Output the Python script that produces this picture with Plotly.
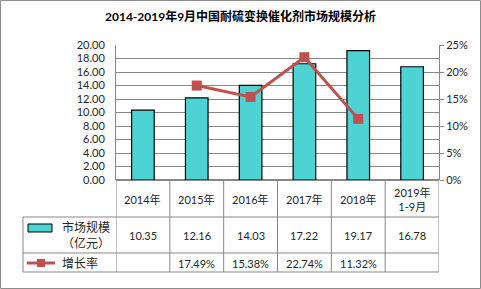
import plotly.graph_objects as go

# ---- data ----
categories = ["2014年", "2015年", "2016年", "2017年", "2018年", "2019年<br>1-9月"]
market_size = [10.35, 12.16, 14.03, 17.22, 19.17, 16.78]
growth_rate = [None, 0.1749, 0.1538, 0.2274, 0.1132, None]
series_names = ["市场规模<br>（亿元）", "增长率"]
title_text = "2014-2019年9月中国耐硫变换催化剂市场规模分析"

W, H = 481, 289
L, R, T, B = 116, 439, 45, 180  # plot area in pixels

FONT = "Lato, 'Noto Sans CJK SC', sans-serif"
TXT = "#262626"
GRID = "#878787"
BAR = "#4dd3d3"
LINE = "#c0504d"


def px(x):
    return (x - L) / (R - L)


def py(y):
    return (B - y) / (B - T)


idx = list(range(len(categories)))

fig = go.Figure()
fig.add_trace(go.Bar(
    x=idx, y=market_size, width=0.42,
    marker=dict(color=BAR, line=dict(color="#000000", width=1.2)),
    name=series_names[0], showlegend=False,
))
fig.add_trace(go.Scatter(
    x=idx, y=growth_rate, yaxis="y2", mode="lines+markers",
    line=dict(color=LINE, width=3),
    marker=dict(symbol="square", size=10, color=LINE),
    connectgaps=False, name=series_names[1], showlegend=False,
))

shapes = []
line_style = dict(color=GRID, width=1)
# table horizontal lines
for yy, x0 in [(217, 23), (253, 23), (272, 23)]:
    shapes.append(dict(type="line", xref="paper", yref="paper",
                       x0=px(x0), x1=1, y0=py(yy), y1=py(yy), line=line_style))
# table vertical lines at category boundaries
n = len(categories)
for i in range(n + 1):
    shapes.append(dict(type="line", xref="x", yref="paper",
                       x0=i - 0.5, x1=i - 0.5, y0=py(180), y1=py(272), line=line_style))
# legend column left edge
shapes.append(dict(type="line", xref="paper", yref="paper",
                   x0=px(23), x1=px(23), y0=py(217), y1=py(272), line=line_style))
# legend icons
shapes.append(dict(type="rect", xref="paper", yref="paper",
                   x0=px(28), x1=px(52), y0=py(224), y1=py(232),
                   fillcolor=BAR, line=dict(color="#000000", width=1)))
shapes.append(dict(type="line", xref="paper", yref="paper",
                   x0=px(27), x1=px(55), y0=py(263), y1=py(263),
                   line=dict(color=LINE, width=3)))
shapes.append(dict(type="rect", xref="paper", yref="paper",
                   x0=px(37), x1=px(45), y0=py(259), y1=py(267),
                   fillcolor=LINE, line=dict(color=LINE, width=0)))
# outer border
shapes.append(dict(type="rect", xref="paper", yref="paper",
                   x0=px(0.5), x1=px(480.5), y0=py(0.5), y1=py(288.5),
                   line=dict(color="#8c8c8c", width=1)))

annotations = []
afont = dict(family=FONT, size=11, color=TXT)
for i, c in enumerate(categories):
    annotations.append(dict(xref="x", yref="paper", x=i, y=py(199), text=c,
                            showarrow=False, font=afont, xanchor="center", yanchor="middle"))
    annotations.append(dict(xref="x", yref="paper", x=i, y=py(235.5),
                            text=f"{market_size[i]:.2f}", showarrow=False,
                            font=afont, xanchor="center", yanchor="middle"))
    if growth_rate[i] is not None:
        annotations.append(dict(xref="x", yref="paper", x=i, y=py(263),
                                text=f"{growth_rate[i] * 100:.2f}%", showarrow=False,
                                font=afont, xanchor="center", yanchor="middle"))
annotations.append(dict(xref="paper", yref="paper", x=px(86), y=py(235.5),
                        text=series_names[0], showarrow=False, xanchor="center",
                        font=dict(family=FONT, size=12, color=TXT), yanchor="middle"))
annotations.append(dict(xref="paper", yref="paper", x=px(60), y=py(263),
                        text=series_names[1], showarrow=False, xanchor="left",
                        font=dict(family=FONT, size=12, color=TXT), yanchor="middle"))
annotations.append(dict(xref="paper", yref="paper", x=px(240), y=py(17),
                        text=f"<b>{title_text}</b>", showarrow=False, xanchor="center",
                        font=dict(family=FONT, size=12, color="#000000"), yanchor="middle"))

fig.update_layout(
    width=W, height=H, autosize=False,
    margin=dict(l=L, r=W - R, t=T, b=H - B, pad=0),
    paper_bgcolor="white", plot_bgcolor="white",
    bargap=0.58,
    xaxis=dict(range=[-0.5, n - 0.5], showticklabels=False, showgrid=False,
               zeroline=False, showline=False, fixedrange=True),
    yaxis=dict(range=[0, 20], dtick=2, tickformat=".2f", showgrid=True,
               gridcolor=GRID, gridwidth=1, zeroline=True, zerolinecolor=GRID,
               zerolinewidth=2, showline=True, linecolor=GRID, linewidth=1,
               ticks="", tickfont=dict(family=FONT, size=11, color=TXT),
               ticklabelstandoff=8),
    yaxis2=dict(range=[0, 0.25], dtick=0.05, tickformat=".0%", overlaying="y",
                side="right", showgrid=False, zeroline=False, showline=True,
                linecolor=GRID, linewidth=1, ticks="outside", ticklen=4,
                tickcolor=GRID, tickfont=dict(family=FONT, size=11, color=TXT)),
    shapes=shapes, annotations=annotations,
)

fig.write_html("out.html")
